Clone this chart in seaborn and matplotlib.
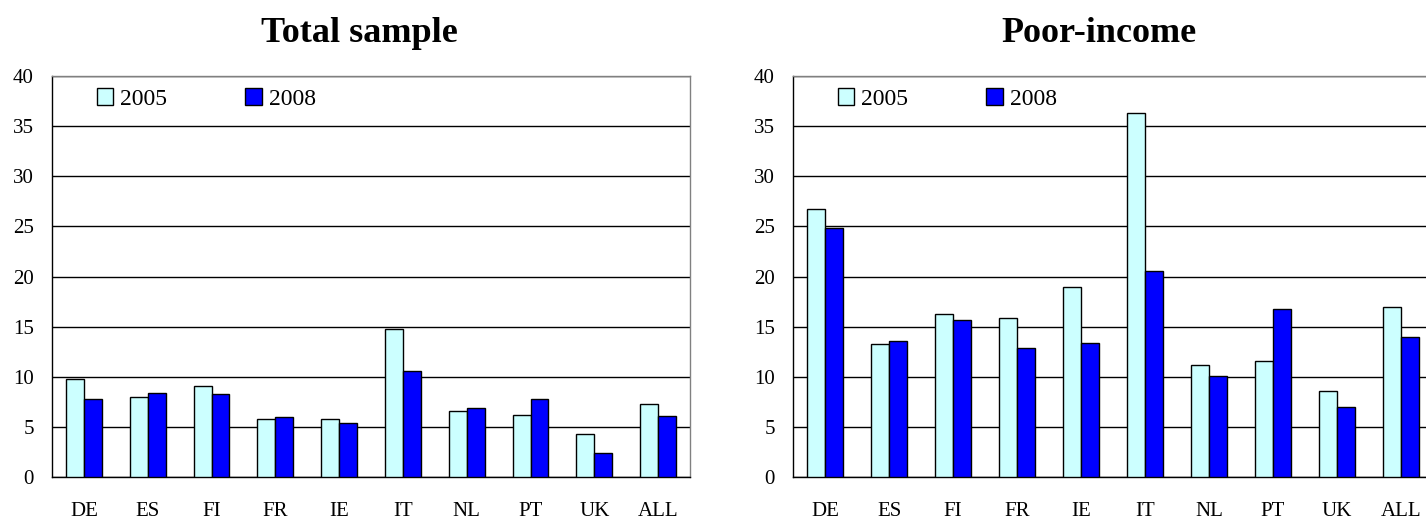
import pandas as pd
import matplotlib
matplotlib.use('Agg')
import matplotlib.pyplot as plt
import seaborn as sns
import numpy as np

# Chart data
countries = ['DE', 'ES', 'FI', 'FR', 'IE', 'IT', 'NL', 'PT', 'UK', 'ALL']
years = ['2005', '2008']
total_2005 = [9.75, 7.99, 9.05, 5.82, 5.82, 14.8, 6.59, 6.22, 4.29, 7.29]
total_2008 = [7.82, 8.39, 8.25, 5.99, 5.39, 10.58, 6.89, 7.82, 2.40, 6.09]
poor_2005 = [26.77, 13.23, 16.25, 15.82, 19.0, 36.28, 11.18, 11.61, 8.59, 16.92]
poor_2008 = [24.84, 13.57, 15.69, 12.84, 13.40, 20.50, 10.08, 16.78, 7.0, 13.93]
titles = ['Total sample', 'Poor-income']

sns.set_style('white')
plt.rcParams['font.family'] = ['Liberation Serif', 'DejaVu Serif']
plt.rcParams['text.color'] = 'black'
plt.rcParams['xtick.color'] = 'black'
plt.rcParams['ytick.color'] = 'black'

palette = {'2005': '#CCFFFF', '2008': '#0000FF'}


def make_df(v05, v08):
    return pd.DataFrame({
        'country': countries * 2,
        'year': ['2005'] * len(countries) + ['2008'] * len(countries),
        'value': list(v05) + list(v08),
    })


fig = plt.figure(figsize=(14.26, 5.25), dpi=100)
ax_left = fig.add_axes([52 / 1426, 48 / 525, 638 / 1426, 401 / 525])
ax_right = fig.add_axes([793 / 1426, 48 / 525, 640 / 1426, 401 / 525])

panels = [
    (ax_left, make_df(total_2005, total_2008), titles[0], 359),
    (ax_right, make_df(poor_2005, poor_2008), titles[1], 1099),
]

for ax, df, title, tx in panels:
    sns.barplot(data=df, x='country', y='value', hue='year', order=countries,
                hue_order=years, palette=palette, saturation=1, width=0.56,
                edgecolor='black', linewidth=1, legend=False, ax=ax, zorder=3)
    ax.set_xlim(-0.5, len(countries) - 0.5)
    ax.set_ylim(0, 40)
    ax.set_yticks(range(0, 41, 5))
    ax.set_xlabel('')
    ax.set_ylabel('')
    ax.yaxis.grid(True, color='black', linewidth=1)
    ax.set_axisbelow(True)

    ax.set_xticks(range(len(countries)))
    ax.set_xticklabels(countries)
    ax.set_xticks(np.arange(-0.5, len(countries)), minor=True)
    ax.tick_params(axis='x', which='major', length=0, pad=18, labelsize=15)
    ax.tick_params(axis='x', which='minor', length=6, width=1, direction='out',
                   color='black')
    ax.tick_params(axis='y', length=7, width=1, direction='out', color='black',
                   labelsize=15, pad=6)

    for side in ['left', 'bottom']:
        ax.spines[side].set_color('black')
        ax.spines[side].set_linewidth(1)
    for side in ['top', 'right']:
        ax.spines[side].set_color('#808080')
        ax.spines[side].set_linewidth(1)

    ax.legend(ax.containers, years, loc='upper left', bbox_to_anchor=(0.07, 0.97),
              ncol=2, frameon=False, fontsize=17, handlelength=0.7,
              handleheight=0.7, handletextpad=0.3, columnspacing=3.3,
              borderpad=0, borderaxespad=0)

    fig.text(tx / 1426, 1 - 42 / 525, title, ha='center', va='baseline',
             fontsize=26, fontweight='bold', color='black')

fig.savefig('out.png', dpi=100)
